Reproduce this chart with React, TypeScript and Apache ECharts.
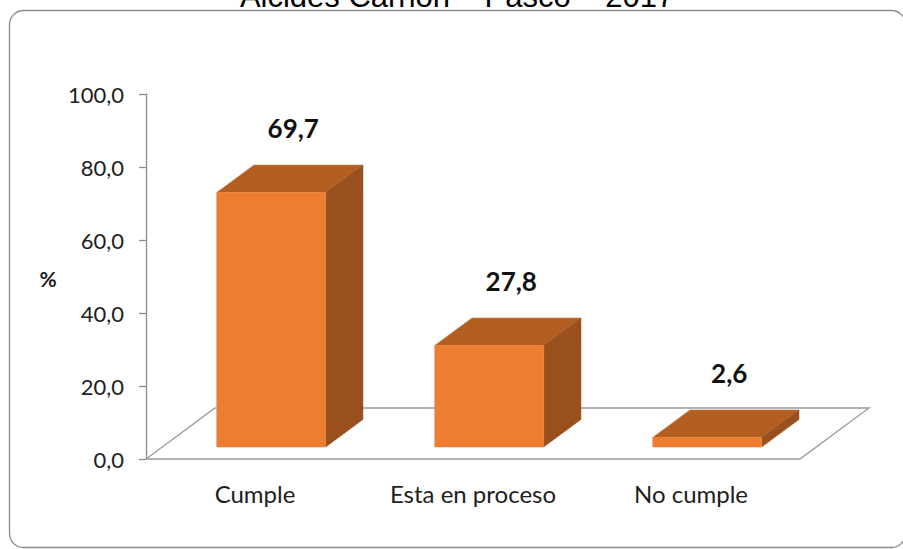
import React, { useEffect, useRef } from "react";
import * as echarts from "echarts";

const categories = ["Cumple", "Esta en proceso", "No cumple"];
const values = [69.7, 27.8, 2.6];
const yMin = 0;
const yMax = 100;
const yInterval = 20;
const titleText = "Alcides Carrión – Pasco – 2017";
const yAxisName = "%";

const DX = 69;
const DY = -51;
const FRONT = 0.235;
const BACK = 0.775;

const fmt = (v: number) => v.toFixed(1).replace(".", ",");

export default function App() {
  const ref = useRef<HTMLDivElement>(null);
  useEffect(() => {
    if (!ref.current) return;
    const chart = echarts.init(ref.current, null, { renderer: "svg" });
    const font = "Lato, 'Open Sans', sans-serif";
    chart.setOption({
      animation: false,
      backgroundColor: "#ffffff",
      grid: { left: 146, right: 103, top: 94, bottom: 90 },
      xAxis: {
        type: "category",
        data: categories,
        axisLine: { show: false },
        axisTick: { show: false },
        axisLabel: {
          interval: 0,
          hideOverlap: false,
          margin: 22,
          fontSize: 24,
          color: "#1e1e1e",
          fontFamily: font,
        },
      },
      yAxis: {
        type: "value",
        min: yMin,
        max: yMax,
        interval: yInterval,
        splitLine: { show: false },
        axisLine: { show: true, lineStyle: { color: "#8c8c8c", width: 1.3 } },
        axisTick: { show: true, length: 7, lineStyle: { color: "#8c8c8c", width: 1.3 } },
        axisLabel: {
          margin: 22,
          fontSize: 22,
          color: "#1e1e1e",
          fontFamily: font,
          formatter: (v: number) => fmt(v),
        },
      },
      graphic: [
        {
          type: "rect",
          shape: { x: 9.5, y: 10.5, width: 896, height: 537, r: 14 },
          style: { fill: "none", stroke: "#8a8a8a", lineWidth: 1.3 },
          z: 0,
        },
        {
          type: "text",
          x: 457,
          y: -3.5,
          style: {
            text: titleText,
            font: "31px 'Liberation Sans', Arial, sans-serif",
            fill: "#000",
            align: "center",
            verticalAlign: "middle",
          },
        },
        {
          type: "text",
          x: 48,
          y: 278,
          style: {
            text: yAxisName,
            font: "bold 21px Lato, 'Open Sans', sans-serif",
            fill: "#1e1e1e",
            align: "center",
            verticalAlign: "middle",
          },
        },
      ],
      series: [
        {
          type: "custom",
          z: 1,
          data: [[0]],
          silent: true,
          renderItem: (params: any) => {
            const cs = params.coordSys;
            const x0 = cs.x;
            const x1 = cs.x + cs.width;
            const yb = cs.y + cs.height;
            return {
              type: "polygon",
              shape: {
                points: [
                  [x0, yb],
                  [x1, yb],
                  [x1 + DX, yb + DY],
                  [x0 + DX, yb + DY],
                ],
              },
              style: { fill: "none", stroke: "#9a9a9a", lineWidth: 1.3 },
            };
          },
        },
        {
          type: "custom",
          z: 2,
          data: values.map((v, i) => [i, v]),
          renderItem: (params: any, api: any) => {
            const idx = api.value(0);
            const v = api.value(1);
            const base = api.coord([idx, 0]);
            const top = api.coord([idx, v]);
            const w = api.size([1, 0])[0] * 0.5;
            const fx = FRONT * DX;
            const fy = FRONT * DY;
            const dx = (BACK - FRONT) * DX;
            const dy = (BACK - FRONT) * DY;
            const xl = base[0] - w / 2 + fx;
            const xr = xl + w;
            const yt = top[1] + fy;
            const ybt = base[1] + fy;
            return {
              type: "group",
              children: [
                {
                  type: "polygon",
                  shape: { points: [[xl, yt], [xr, yt], [xr + dx, yt + dy], [xl + dx, yt + dy]] },
                  style: { fill: "#b45f22", stroke: "#c9763c", lineWidth: 0.6 },
                },
                {
                  type: "polygon",
                  shape: { points: [[xr, yt], [xr + dx, yt + dy], [xr + dx, ybt + dy], [xr, ybt]] },
                  style: { fill: "#9a4f1e", stroke: "#9a4f1e", lineWidth: 0.5 },
                },
                {
                  type: "rect",
                  shape: { x: xl, y: yt, width: w, height: ybt - yt },
                  style: { fill: "#ed7d31", stroke: "#f08a45", lineWidth: 0.6 },
                },
                {
                  type: "text",
                  x: base[0] + fx + 22,
                  y: yt + dy - 37,
                  style: {
                    text: fmt(v),
                    font: "bold 26px Lato, 'Open Sans', sans-serif",
                    fill: "#111",
                    align: "center",
                    verticalAlign: "middle",
                  },
                },
              ],
            };
          },
        },
      ],
    });
    return () => chart.dispose();
  }, []);
  return (
    <div
      ref={ref}
      style={{ position: "fixed", left: 0, top: 0, width: 903, height: 549 }}
    />
  );
}
